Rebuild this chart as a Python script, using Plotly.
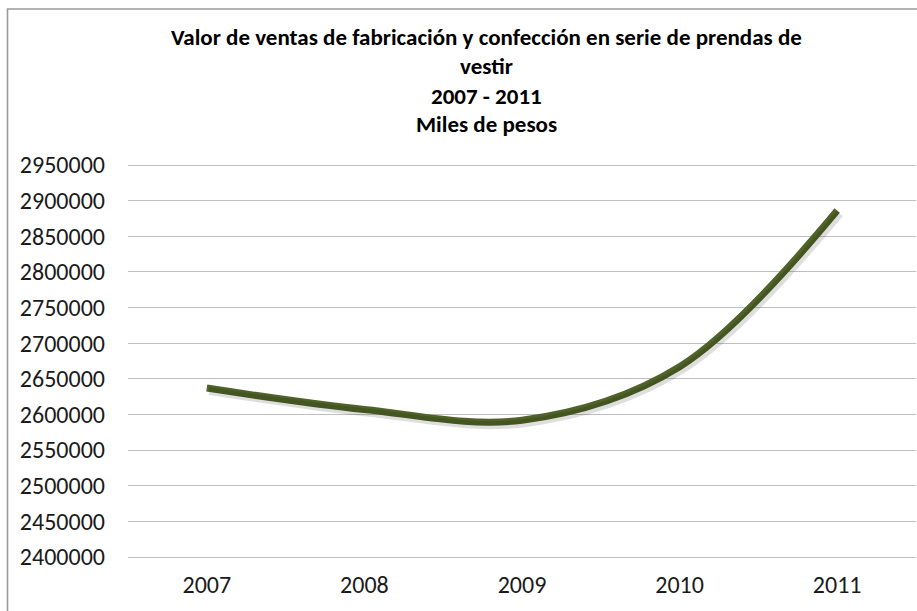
import plotly.graph_objects as go

years = ["2007", "2008", "2009", "2010", "2011"]
ventas = [2637000, 2607000, 2592000, 2667000, 2886000]

title_lines = [
    "Valor de ventas de fabricación y confección en serie de prendas de",
    "vestir",
    "2007 - 2011",
    "Miles de pesos",
]
y_ticks = list(range(2400000, 2950001, 50000))

FONT = "Calibri, Carlito, Lato, sans-serif"
LINE_COLOR = "#4F6228"
TEXT_COLOR = "#1A1A1A"

fig = go.Figure()

px_per_unit = 392 / 550000.0
pad = 2 / px_per_unit
dy = 3 / px_per_unit
dx = 2.5 / 158.0
y0r, y1r = 2400000 - pad, 2950000 + pad

# soft shadow, same data drawn on slightly offset overlay axes
fig.add_trace(go.Scatter(
    x=years, y=ventas, mode="lines",
    line=dict(color="rgba(0,0,0,0.13)", width=8, shape="spline", smoothing=1.0),
    xaxis="x2", yaxis="y2", hoverinfo="skip", showlegend=False,
))
fig.add_trace(go.Scatter(
    x=years, y=ventas, mode="lines",
    line=dict(color=LINE_COLOR, width=7, shape="spline", smoothing=1.0),
    showlegend=False,
))

fig.update_layout(
    width=917, height=611,
    margin=dict(l=128, r=1, t=163, b=52),
    paper_bgcolor="white", plot_bgcolor="white",
    font=dict(family=FONT, color=TEXT_COLOR),
    xaxis=dict(
        type="category", range=[-0.5, 4.5], showgrid=False, zeroline=False,
        showline=False, ticks="", tickfont=dict(size=24, family=FONT, color=TEXT_COLOR),
        ticklabelstandoff=9,
    ),
    yaxis=dict(
        range=[y0r, y1r], tickvals=y_ticks,
        ticktext=[str(v) for v in y_ticks],
        showgrid=True, gridcolor="#BFBFBF", gridwidth=1.3, zeroline=False,
        showline=False, ticks="", tickfont=dict(size=24, family=FONT, color=TEXT_COLOR),
        ticklabelstandoff=22,
    ),
    xaxis2=dict(
        type="category", overlaying="x", range=[-0.5 - dx, 4.5 - dx],
        visible=False,
    ),
    yaxis2=dict(
        overlaying="y", range=[y0r + dy, y1r + dy], visible=False,
    ),
)

plot_h = 392 + 4
plot_bottom = 557 + 2
title_y_px = [37, 66, 96, 124]
for txt, ypx in zip(title_lines, title_y_px):
    fig.add_annotation(
        text="<b>" + txt + "</b>", xref="paper", yref="paper",
        x=(486 - 128) / 788.0, y=(plot_bottom - ypx) / plot_h,
        xanchor="center", yanchor="middle", showarrow=False,
        font=dict(size=23, family=FONT, color="#000000"),
    )

# outer chart border (visible left and top edges)
fig.add_shape(
    type="rect", xref="paper", yref="paper",
    x0=(7.5 - 128) / 788.0, x1=(930 - 128) / 788.0,
    y0=(plot_bottom - 640) / plot_h, y1=(plot_bottom - 9) / plot_h,
    line=dict(color="#9A9A9A", width=1.6), layer="below",
)

fig.write_html(
    "out.html",
    config={"displayModeBar": False},
    post_script="document.body.style.margin='0px';document.body.style.overflow='hidden';",
)
